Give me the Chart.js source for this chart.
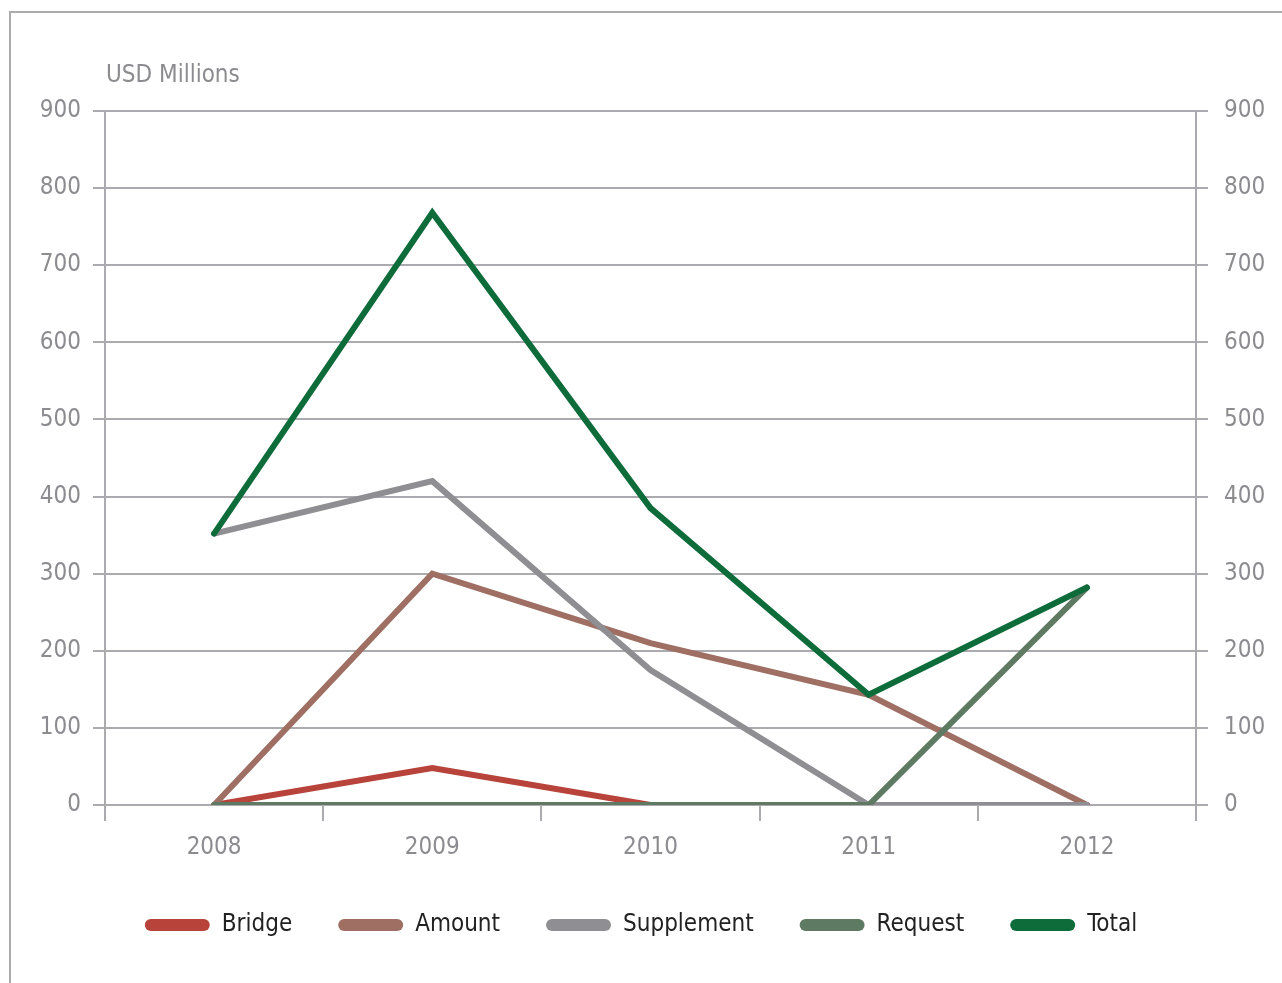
<!DOCTYPE html>
<html>
<head>
<meta charset="utf-8">
<script src="https://cdn.jsdelivr.net/npm/chart.js@4/dist/chart.umd.min.js"></script>
<style>
  html, body { margin: 0; padding: 0; background: #fff; overflow: hidden; }
  #frame { position: absolute; left: 9px; top: 11px; width: 1300px; height: 1000px;
           border-top: 2px solid #ababab; border-left: 2px solid #ababab; }
  #wrap { position: absolute; left: 0; top: 0; width: 1282px; height: 983px; }
</style>
</head>
<body>
<div id="frame"></div>
<div id="wrap"><canvas id="chart"></canvas></div>
<script>
// Funding by instrument, USD millions
const years = ['2008', '2009', '2010', '2011', '2012'];
const bridge = [0, 48, 0, 0, 0];
const amount = [0, 300, 210, 143, 0];
const supplement = [352, 420, 175, 0, 0];
const request = [0, 0, 0, 0, 282];
const total = [352, 768, 385, 143, 282];
const yTicks = [0, 100, 200, 300, 400, 500, 600, 700, 800, 900];

const FONT = '"Liberation Sans Narrow", "Arial Narrow", "DejaVu Sans Condensed", sans-serif';
const FONT_SIZE = 24;
const GRID = '#ababaf';
const TICK_TEXT = '#8c8c90';

function series(label, data, color, order) {
  return {
    label, data, order,
    borderColor: color, backgroundColor: color,
    borderWidth: 6, pointRadius: 0, pointHoverRadius: 0,
    tension: 0, borderJoinStyle: 'miter', borderCapStyle: 'round', fill: false
  };
}

// unit caption above the left axis
const unitCaption = {
  id: 'unitCaption',
  afterDraw(chart) {
    const ctx = chart.ctx;
    ctx.save();
    ctx.font = FONT_SIZE + 'px ' + FONT;
    ctx.fillStyle = TICK_TEXT;
    ctx.textAlign = 'left';
    ctx.textBaseline = 'alphabetic';
    ctx.fillText('USD Millions', chart.chartArea.left + 1, 82);
    ctx.restore();
  }
};

const yTickOpts = (pad) => ({
  padding: pad,
  color: TICK_TEXT,
  font: { family: FONT, size: FONT_SIZE },
  autoSkip: false,
  callback: (v) => v
});

new Chart(document.getElementById('chart'), {
  type: 'line',
  data: {
    labels: years,
    datasets: [
      series('Bridge', bridge, '#b8433b', 4),
      series('Amount', amount, '#9e6f62', 3),
      series('Supplement', supplement, '#8e8e93', 2),
      series('Request', request, '#5e7a62', 1),
      series('Total', total, '#0e6b3a', 0)
    ]
  },
  plugins: [unitCaption],
  options: {
    responsive: true,
    maintainAspectRatio: false,
    animation: false,
    events: [],
    layout: { padding: { left: 0, right: 0, top: 111, bottom: 36 } },
    plugins: {
      tooltip: { enabled: false },
      title: { display: false },
      legend: {
        display: true,
        position: 'bottom',
        labels: {
          boxWidth: 65,
          boxHeight: 12,
          padding: 46,
          useBorderRadius: true,
          borderRadius: 6,
          color: '#222',
          font: { family: FONT, size: FONT_SIZE },
          generateLabels(chart) {
            return chart.data.datasets.map((ds, i) => ({
              text: ds.label,
              fillStyle: ds.borderColor,
              strokeStyle: ds.borderColor,
              lineWidth: 0,
              fontColor: '#222',
              hidden: false,
              borderRadius: 6,
              datasetIndex: i
            }));
          }
        }
      }
    },
    scales: {
      x: {
        type: 'category',
        offset: true,
        grid: { display: true, drawOnChartArea: false, drawTicks: true, tickLength: 16,
                offset: true, color: GRID, lineWidth: 2 },
        border: { display: true, color: GRID, width: 2 },
        ticks: { color: TICK_TEXT, font: { family: FONT, size: FONT_SIZE }, padding: 12 },
        afterFit(scale) { scale.height = 62; }
      },
      y: {
        position: 'left',
        min: 0, max: 900,
        afterBuildTicks(scale) { scale.ticks = yTicks.map(v => ({ value: v })); },
        grid: { color: GRID, lineWidth: 2, tickLength: 12, drawTicks: true },
        border: { display: true, color: GRID, width: 2 },
        ticks: yTickOpts(12),
        afterFit(scale) { scale.width = 105; }
      },
      y2: {
        position: 'right',
        min: 0, max: 900,
        afterBuildTicks(scale) { scale.ticks = yTicks.map(v => ({ value: v })); },
        grid: { drawOnChartArea: false, color: GRID, lineWidth: 2, tickLength: 12, drawTicks: true },
        border: { display: true, color: GRID, width: 2 },
        ticks: yTickOpts(16),
        afterFit(scale) { scale.width = 86; }
      }
    }
  }
});
</script>
</body>
</html>
